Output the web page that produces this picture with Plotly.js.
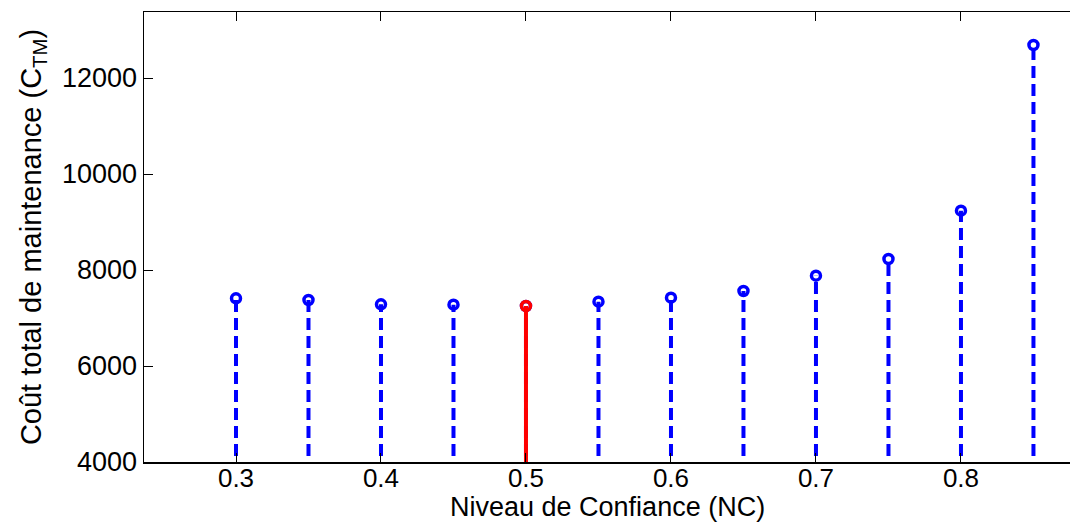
<!DOCTYPE html>
<html>
<head>
<meta charset="utf-8">
<script src="https://cdn.plot.ly/plotly-3.0.1.min.js"></script>
<style>html,body{margin:0;padding:0;background:#fff;}#chart{width:1070px;height:524px;}</style>
</head>
<body>
<div id="chart"></div>
<script>
const niveau = [0.30, 0.35, 0.40, 0.45, 0.50, 0.55, 0.60, 0.65, 0.70, 0.75, 0.80, 0.85];
const cout = [7410, 7375, 7285, 7277, 7250, 7340, 7423, 7562, 7882, 8229, 9236, 12688];
const xTicks = [0.3, 0.4, 0.5, 0.6, 0.7, 0.8];
const yTicks = [4000, 6000, 8000, 10000, 12000];
const optimalIndex = 4;
const stemBase = 0;

const sx = [], sy = [];
niveau.forEach((x, i) => { sx.push(x, x, null); sy.push(stemBase, cout[i], null); });

const fontFam = 'Liberation Sans, Arial, sans-serif';
const traces = [
  {x: sx, y: sy, type: 'scatter', mode: 'lines', line: {color: '#0000ff', width: 4, dash: '12px,6px'}, hoverinfo: 'skip'},
  {x: niveau, y: cout, type: 'scatter', mode: 'markers',
   marker: {symbol: 'circle-open', size: 9, color: '#0000ff', line: {width: 3.5, color: '#0000ff'}}},
  {x: [niveau[optimalIndex], niveau[optimalIndex]], y: [stemBase, cout[optimalIndex]], type: 'scatter', mode: 'lines',
   line: {color: '#ff0000', width: 4}},
  {x: [niveau[optimalIndex]], y: [cout[optimalIndex]], type: 'scatter', mode: 'markers',
   marker: {symbol: 'circle-open', size: 9, color: '#ff0000', line: {width: 3.5, color: '#ff0000'}}}
];

const layout = {
  width: 1070, height: 524,
  margin: {l: 144, r: 0, t: 12, b: 62},
  paper_bgcolor: '#fff', plot_bgcolor: '#fff',
  showlegend: false,
  font: {family: fontFam, size: 27, color: '#000'},
  xaxis: {
    range: [0.23655, 0.8752], tickvals: xTicks, ticktext: xTicks.map(v => v.toFixed(1)),
    ticks: 'inside', ticklen: 9, tickwidth: 1, tickcolor: '#000',
    showline: true, linecolor: '#000', linewidth: 1.5, mirror: 'ticks',
    showgrid: false, zeroline: false,
    tickfont: {size: 26, family: fontFam},
    ticklabelstandoff: -8
  },
  yaxis: {
    range: [4000, 13375], tickvals: yTicks, ticktext: yTicks.map(String),
    ticks: 'inside', ticklen: 9, tickwidth: 1, tickcolor: '#000',
    showline: true, linecolor: '#000', linewidth: 1.5,
    showgrid: false, zeroline: false,
    tickfont: {size: 27, family: fontFam},
    title: {text: 'Coût total de maintenance (C<sub>TM</sub>)', font: {size: 29, family: fontFam}, standoff: 12}
  },
  annotations: [{
    text: 'Niveau de Confiance (NC)', xref: 'paper', yref: 'paper', x: 0.5, y: 0,
    xanchor: 'center', yanchor: 'middle', yshift: -45, showarrow: false,
    font: {size: 27, family: fontFam, color: '#000'}
  }]
};

Plotly.newPlot('chart', traces, layout, {displayModeBar: false, staticPlot: true});
</script>
</body>
</html>
